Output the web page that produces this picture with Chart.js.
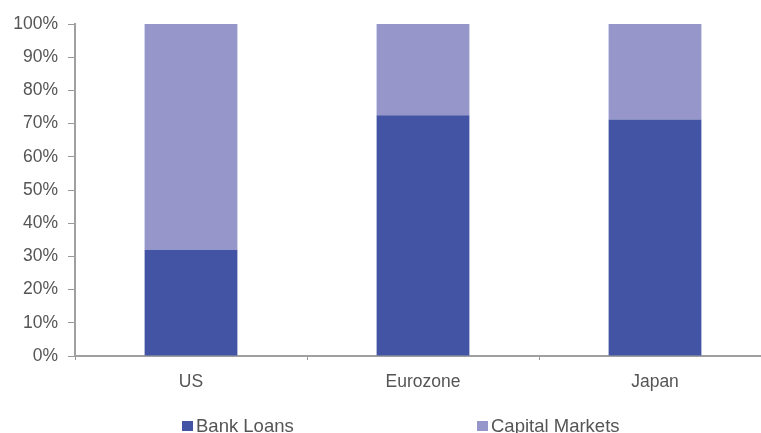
<!DOCTYPE html>
<html><head><meta charset="utf-8">
<script src="https://cdn.jsdelivr.net/npm/chart.js@4/dist/chart.umd.min.js"></script>
<style>
html,body{margin:0;padding:0;background:#fff;}
#wrap{position:relative;width:761px;height:433px;overflow:hidden;}
#c{position:absolute;left:0;top:0;}
.leg{position:absolute;top:415px;font-family:"Liberation Sans",Arial,sans-serif;font-size:18.5px;color:#555;line-height:22px;white-space:nowrap;}
.leg span.b{display:inline-block;width:11px;height:10px;margin-right:3px;vertical-align:1px;}
</style></head>
<body><div id="wrap"><canvas id="c" width="771" height="433"></canvas>
<div class="leg" id="l0" style="left:182px"></div>
<div class="leg" id="l1" style="left:477px"></div>
</div>
<script>
const categories = ["US", "Eurozone", "Japan"];
const seriesNames = ["Bank Loans", "Capital Markets"];
const bankLoans = [32, 72.5, 71.2];
const capitalMarkets = [68, 27.5, 28.8];
const yTicks = [0,10,20,30,40,50,60,70,80,90,100];
const colors = ["#4454a4", "#9696ca"];

const legs = [document.getElementById('l0'), document.getElementById('l1')];
seriesNames.forEach((n,i)=>{legs[i].innerHTML='<span class="b" style="background:'+colors[i]+'"></span>'+n;});

const font = {family:"'Liberation Sans', Arial, sans-serif", size:17.5};
new Chart(document.getElementById('c'), {
  type:'bar',
  data:{labels:categories, datasets:[
    {label:seriesNames[0], data:bankLoans, backgroundColor:colors[0], barPercentage:0.4, categoryPercentage:1},
    {label:seriesNames[1], data:capitalMarkets, backgroundColor:colors[1], barPercentage:0.4, categoryPercentage:1}
  ]},
  options:{
    responsive:false, animation:false,
    layout:{padding:{top:24,right:0,bottom:32,left:0}},
    plugins:{legend:{display:false}, tooltip:{enabled:false}},
    scales:{
      x:{stacked:true, offset:true,
        grid:{display:true, drawOnChartArea:false, drawTicks:true, tickLength:4, color:'#999', offset:true},
        border:{display:true, color:'#a0a0a0', width:2},
        ticks:{font:font, color:'#555', padding:12},
        afterFit:s=>{s.height=45;}
      },
      y:{stacked:true, min:0, max:100,
        afterBuildTicks:s=>{s.ticks=yTicks.map(v=>({value:v}));},
        grid:{display:true, drawOnChartArea:false, drawTicks:true, tickLength:7, color:'#999'},
        border:{display:true, color:'#a0a0a0', width:2},
        ticks:{font:font, color:'#555', padding:10, callback:v=>v+'%'},
        afterFit:s=>{s.width=75;}
      }
    }
  }
});
</script></body></html>
